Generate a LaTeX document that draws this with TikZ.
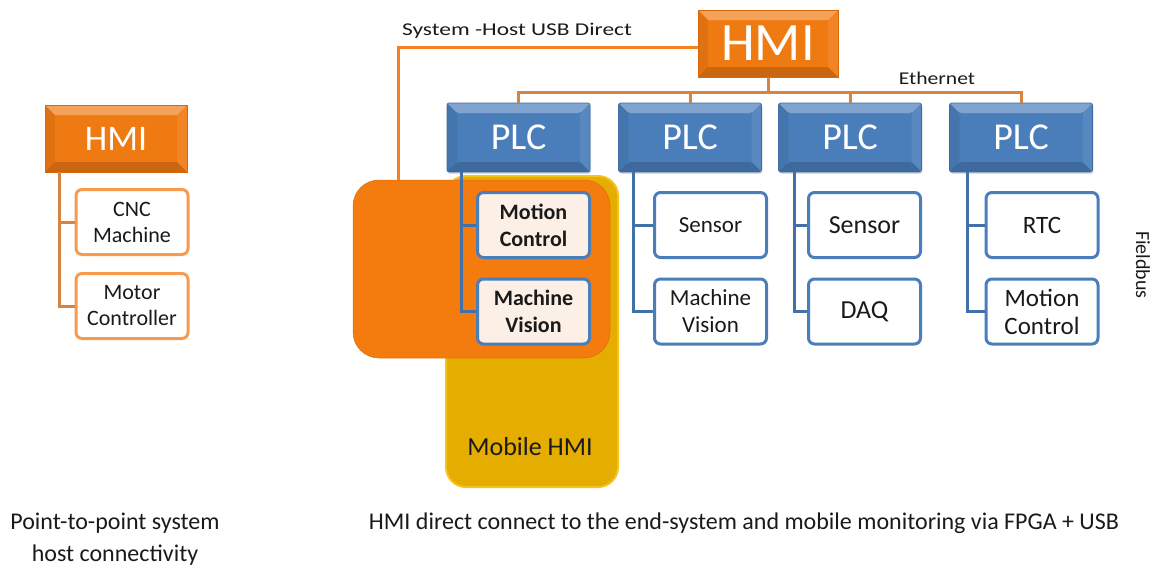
\documentclass[tikz,border=0pt]{standalone}
\usepackage{fontspec}
\setmainfont{Carlito}
\usetikzlibrary{calc,shadows}

\definecolor{hmiorange}{HTML}{F07A12}
\definecolor{hmiedge}{HTML}{D9680A}
\definecolor{plcblue}{HTML}{4A7EBB}
\definecolor{plcedge}{HTML}{3C6BA5}
\definecolor{linkblue}{HTML}{4470A8}
\definecolor{linkbrown}{HTML}{D6843F}
\definecolor{usborange}{HTML}{F5821F}
\definecolor{boxorange}{HTML}{F79A4E}
\definecolor{mobileorange}{HTML}{F47B0E}
\definecolor{mobilegold}{HTML}{E5AD00}
\definecolor{goldrim}{HTML}{F6C21C}
\definecolor{cream}{HTML}{FCF0E6}
\definecolor{ink}{HTML}{1A1A1A}

\tikzset{
  bevel/.style={path picture={
    \path (path picture bounding box.south west) coordinate (bsw)
          (path picture bounding box.north east) coordinate (bne)
          (path picture bounding box.north west) coordinate (bnw)
          (path picture bounding box.south east) coordinate (bse);
    \fill[white,opacity=.30] (bnw) -- (bne) -- ($(bne)+(-#1,-#1)$) -- ($(bnw)+(#1,-#1)$) -- cycle;
    \fill[black,opacity=.16] (bsw) -- (bse) -- ($(bse)+(-#1,#1)$) -- ($(bsw)+(#1,#1)$) -- cycle;
    \fill[black,opacity=.07] (bnw) -- (bsw) -- ($(bsw)+(#1,#1)$) -- ($(bnw)+(#1,-#1)$) -- cycle;
    \fill[white,opacity=.08] (bne) -- (bse) -- ($(bse)+(-#1,#1)$) -- ($(bne)+(-#1,-#1)$) -- cycle;
  }},
  bevel/.default=10pt,
  hmibox/.style={rectangle, fill=hmiorange, draw=hmiedge, line width=0.6pt, bevel,
    text=white, inner sep=0pt},
  plcbox/.style={rectangle, rounded corners=2pt, fill=plcblue, draw=plcedge,
    line width=0.6pt, bevel, text=white, inner sep=0pt,
    minimum width=143pt, minimum height=69pt,
    drop shadow={shadow xshift=1pt, shadow yshift=-2pt, opacity=.25},
    font=\fontsize{38}{38}\selectfont},
  unitbox/.style={rectangle, rounded corners=6pt, draw=plcblue, line width=3pt,
    fill=white, minimum width=112pt, minimum height=65pt, inner sep=0pt,
    align=center, text=ink, font=\fontsize{23}{27}\selectfont},
  hostbox/.style={unitbox, draw=boxorange, font=\fontsize{22}{26}\selectfont},
  bluelink/.style={draw=linkblue, line width=3pt},
  brownlink/.style={draw=linkbrown, line width=3pt},
  usblink/.style={draw=usborange, line width=3pt},
  caption/.style={text=ink, font=\fontsize{24}{32}\selectfont, align=center},
  tag/.style={text=ink, inner sep=0pt, font=\fontsize{18}{18}\selectfont},
}

\begin{document}
\begin{tikzpicture}[x=1pt, y=-1pt]
\useasboundingbox (0,0) rectangle (1157,568);

% ---------- point-to-point system (left) ----------
\node[hmibox, minimum width=142pt, minimum height=67pt,
      font=\fontsize{36}{36}\selectfont] (hmiL) at (116,138.5) {HMI};
\node[hostbox] (cnc)   at (132,222) {CNC\\Machine};
\node[hostbox] (motor) at (132,306) {Motor\\Controller};
\coordinate (trunkL) at ($(hmiL.south west)+(15,0)$);
\draw[brownlink] (trunkL) |- (cnc.west);
\draw[brownlink] (trunkL) |- (motor.west);

% ---------- mobile HMI areas ----------
\node[rectangle, rounded corners=20pt, fill=mobilegold, draw=goldrim, line width=2pt,
      minimum width=172pt, minimum height=311pt, inner sep=0pt] (mobile) at (532,331.5) {};
\node[rectangle, rounded corners=26pt, fill=mobileorange, draw=mobileorange!90!black,
      line width=0.5pt, minimum width=257pt, minimum height=178pt, inner sep=0pt]
      (direct) at (481.5,269) {};
\node[text=ink, font=\fontsize{26}{26}\selectfont] (mobilelabel) at (530,447) {Mobile HMI};

% ---------- main HMI and Ethernet ----------
\node[hmibox, minimum width=140pt, minimum height=67pt,
      font=\fontsize{54}{54}\selectfont] (hmi) at (768,43.5) {HMI};

\node[plcbox] (plc1) at (518.5,137.5) {PLC};
\node[plcbox] (plc2) at (690,137.5)   {PLC};
\node[plcbox] (plc3) at (850,137.5)   {PLC};
\node[plcbox] (plc4) at (1021,137.5)  {PLC};

\coordinate (bus) at (768,92);
\draw[brownlink] (hmi.south) -- (hmi.south |- bus);
\draw[brownlink] (plc1.north) -- (plc1.north |- bus) -- (plc4.north |- bus) -- (plc4.north);
\draw[brownlink] (plc2.north) -- (plc2.north |- bus);
\draw[brownlink] (plc3.north) -- (plc3.north |- bus);
\node[tag, xscale=1.2] (ethernet) at (937,78) {Ethernet};

% ---------- USB direct link ----------
\coordinate (usbcorner) at (398,47);
\draw[usblink] (hmi.west |- usbcorner) -- (usbcorner) -- (usbcorner |- direct.north);
\node[tag, xscale=1.3] (usblabel) at (517,31) {System -Host USB Direct};

% ---------- field units ----------
\node[unitbox, fill=cream, font=\bfseries\fontsize{22}{27}\selectfont] (mc1) at (533.5,225)   {Motion\\Control};
\node[unitbox, fill=cream, font=\bfseries\fontsize{22}{27}\selectfont] (mv1) at (533.5,311.5) {Machine\\Vision};
\node[unitbox] (sen2) at (710.5,225)   {Sensor};
\node[unitbox] (mv2)  at (710.5,311.5) {Machine\\Vision};
\node[unitbox, font=\fontsize{26}{27}\selectfont] (sen3) at (864.5,225) {Sensor};
\node[unitbox, font=\fontsize{26}{27}\selectfont] (daq3) at (864.5,311.5) {DAQ};
\node[unitbox, font=\fontsize{25}{28}\selectfont] (rtc4) at (1042,225) {RTC};
\node[unitbox, font=\fontsize{25}{28}\selectfont] (mc4)  at (1042,311.5) {Motion\\Control};

\coordinate (trunk1) at ($(plc1.south west)+(15,0)$);
\coordinate (trunk2) at ($(plc2.south west)+(15,0)$);
\coordinate (trunk3) at ($(plc3.south west)+(16,0)$);
\coordinate (trunk4) at ($(plc4.south west)+(18,0)$);
\draw[bluelink] (trunk1) |- (mc1.west);
\draw[bluelink] (trunk1) |- (mv1.west);
\draw[bluelink] (trunk2) |- (sen2.west);
\draw[bluelink] (trunk2) |- (mv2.west);
\draw[bluelink] (trunk3) |- (sen3.west);
\draw[bluelink] (trunk3) |- (daq3.west);
\draw[bluelink] (trunk4) |- (rtc4.west);
\draw[bluelink] (trunk4) |- (mc4.west);

\node[tag, rotate=-90, font=\fontsize{20}{20}\selectfont] (fieldbus) at (1143,265) {Fieldbus};

% ---------- captions ----------
\node[caption] (capL) at (115,539) {Point-to-point system\\host connectivity};
\node[caption] (capR) at (744,523) {HMI direct connect to the end-system and mobile monitoring via FPGA + USB};
\end{tikzpicture}
\end{document}
